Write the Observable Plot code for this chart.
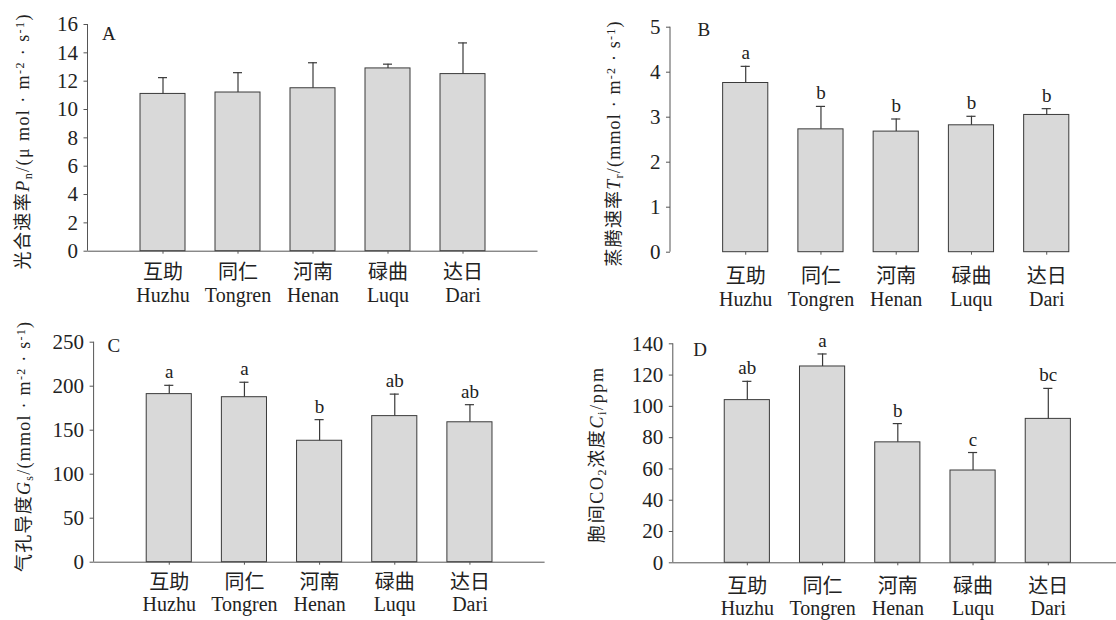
<!DOCTYPE html>
<html><head><meta charset="utf-8">
<script src="https://cdn.jsdelivr.net/npm/d3@7"></script>
<script src="https://cdn.jsdelivr.net/npm/@observablehq/plot@0.6"></script>
<style>
body{margin:0;background:#fff;}
#fig{position:relative;width:1116px;height:620px;overflow:hidden;background:#fff;}
.panel{position:absolute;}
.panel svg{overflow:visible;}
</style></head><body><div id="fig"></div>
<script>
// ---- data ----
const sitesCN = ["互助", "同仁", "河南", "碌曲", "达日"];
const sitesEN = ["Huzhu", "Tongren", "Henan", "Luqu", "Dari"];

// A: net photosynthetic rate Pn (μmol·m-2·s-1)
const pnMean = [11.1, 11.2, 11.5, 12.9, 12.5];
const pnSE   = [1.15, 1.4, 1.8, 0.3, 2.2];
const pnTicks = [0, 2, 4, 6, 8, 10, 12, 14, 16];

// B: transpiration rate Tr (mmol·m-2·s-1)
const trMean = [3.76, 2.73, 2.68, 2.82, 3.05];
const trSE   = [0.37, 0.51, 0.28, 0.20, 0.14];
const trLetters = ["a", "b", "b", "b", "b"];
const trTicks = [0, 1, 2, 3, 4, 5];

// C: stomatal conductance Gs (mmol·m-2·s-1)
const gsMean = [191, 187.5, 138, 166, 159];
const gsSE   = [10, 17, 24, 25, 20];
const gsLetters = ["a", "a", "b", "ab", "ab"];
const gsTicks = [0, 50, 100, 150, 200, 250];

// D: intercellular CO2 concentration Ci (ppm)
const ciMean = [104, 125.5, 77, 59, 92];
const ciSE   = [12, 8, 12, 11.5, 19.5];
const ciLetters = ["ab", "a", "b", "c", "bc"];
const ciTicks = [0, 20, 40, 60, 80, 100, 120, 140];

const cnOf = new Map(sitesEN.map((s, i) => [s, sitesCN[i]]));
const SERIF = "'Liberation Serif','Noto Sans CJK SC',serif";
const INK = "#222";

function makePanel(cfg) {
  const data = sitesEN.map((s, i) => ({
    site: s,
    mean: cfg.mean[i],
    upper: cfg.mean[i] + cfg.se[i],
    letter: cfg.letters ? cfg.letters[i] : ""
  }));
  const yDom = [cfg.ticks[0], cfg.ticks[cfg.ticks.length - 1]];
  const yLine = (index, scales, values, dims) => {
    const l = document.createElementNS("http://www.w3.org/2000/svg", "line");
    const x = dims.marginLeft;
    l.setAttribute("x1", x); l.setAttribute("x2", x);
    l.setAttribute("y1", scales.y(yDom[0])); l.setAttribute("y2", scales.y(yDom[1]));
    l.setAttribute("stroke", "#555"); l.setAttribute("stroke-width", 1);
    return l;
  };
  const marks = [
    Plot.barY(data, {x: "site", y: "mean", fill: "#d9d9d9", stroke: "#3a3a3a", strokeWidth: 1}),
    Plot.ruleX(data, {x: "site", y1: "mean", y2: "upper", stroke: "#3a3a3a", strokeWidth: 1.2}),
    Plot.tickY(data, {x: "site", y: "upper", insetLeft: 18, insetRight: 18, stroke: "#3a3a3a", strokeWidth: 1.2}),
    Plot.axisY({ticks: cfg.ticks, tickSize: 4, tickPadding: 6, fontSize: 21, label: null, stroke: "#555",
                tickFormat: d => String(d)}),
    Plot.axisX({tickSize: 3, tickPadding: cfg.xpad, fontSize: 20, lineHeight: cfg.lh, label: null,
                stroke: "#555", tickFormat: d => cnOf.get(d) + "\n" + d}),
    yLine,
    Plot.text([cfg.tag], {frameAnchor: "top-left", text: d => d, dx: cfg.tagDx, dy: cfg.tagDy,
                          lineAnchor: "middle", textAnchor: "start", fontSize: 19})
  ];
  if (cfg.baseline) marks.push(Plot.ruleY([0], {stroke: "#555", strokeWidth: 1}));
  if (cfg.letters) marks.push(Plot.text(data, {x: "site", y: "upper", text: "letter", dy: -7,
                                                lineAnchor: "bottom", fontSize: 19}));
  const svg = Plot.plot({
    width: 558, height: 310,
    marginLeft: cfg.ml, marginRight: cfg.mr, marginTop: cfg.mt, marginBottom: cfg.mb,
    style: {fontFamily: SERIF, fontSize: "20px", color: INK, background: "transparent", overflow: "visible"},
    x: {domain: sitesEN, paddingInner: 0.4, paddingOuter: cfg.po, align: cfg.align, round: false, axis: null},
    y: {domain: yDom, axis: null},
    marks
  });
  // rotated y-axis title with sub/superscripts
  const t = d3.select(svg).append("text")
    .attr("transform", `translate(${cfg.tx},${cfg.ty}) rotate(-90)`)
    .attr("text-anchor", "middle")
    .attr("font-family", SERIF)
    .attr("font-size", 18)
    .attr("textLength", cfg.tlen)
    .attr("lengthAdjust", "spacing")
    .attr("fill", INK);
  for (const [s, kind] of cfg.title) {
    const sp = t.append("tspan").text(s);
    if (kind === "i") sp.attr("font-style", "italic");
    if (kind === "sub") sp.attr("font-size", 12).attr("baseline-shift", "-25%");
    if (kind === "sup") sp.attr("font-size", 12).attr("baseline-shift", "45%");
  }
  const div = document.createElement("div");
  div.className = "panel";
  div.style.left = cfg.left + "px";
  div.style.top = cfg.top + "px";
  div.appendChild(svg);
  document.getElementById("fig").appendChild(div);
}

makePanel({
  left: 0, top: 0, mean: pnMean, se: pnSE, ticks: pnTicks, tag: "A",
  ml: 87.5, mr: 20.5, mt: 24, mb: 59.3, po: 0.7, align: 0.5, baseline: true,
  xpad: 8, lh: 1.15, tagDx: 14, tagDy: 9, tx: 29, ty: 142, tlen: 255,
  title: [["光合速率"], ["P", "i"], ["n", "sub"], ["/(μ mol · m"], ["-2", "sup"], [" · s"], ["-1", "sup"], [")"]]
});
makePanel({
  left: 558, top: 0, mean: trMean, se: trSE, ticks: trTicks, tag: "B", letters: trLetters,
  ml: 112, mr: 2, mt: 26.7, mb: 58.3, po: 0.65, align: 0.538, baseline: false,
  xpad: 11, lh: 1.15, tagDx: 27, tagDy: 3, tx: 62, ty: 144, tlen: 245,
  title: [["蒸腾速率"], ["T", "i"], ["r", "sub"], ["/(mmol · m"], ["-2", "sup"], [" · s"], ["-1", "sup"], [")"]]
});
makePanel({
  left: 0, top: 310, mean: gsMean, se: gsSE, ticks: gsTicks, tag: "C", letters: gsLetters,
  ml: 93.6, mr: 13.4, mt: 31.7, mb: 58.3, po: 0.7, align: 0.5, baseline: true,
  xpad: 8, lh: 1.12, tagDx: 13.4, tagDy: 3.5, tx: 30, ty: 137, tlen: 250,
  title: [["气孔导度"], ["G", "i"], ["s", "sub"], ["/(mmol · m"], ["-2", "sup"], [" · s"], ["-1", "sup"], [")"]]
});
makePanel({
  left: 558, top: 310, mean: ciMean, se: ciSE, ticks: ciTicks, tag: "D", letters: ciLetters,
  ml: 114.8, mr: 0, mt: 33.3, mb: 57.7, po: 0.645, align: 0.53, baseline: true,
  xpad: 11, lh: 1.12, tagDx: 20, tagDy: 6, tx: 44.5, ty: 145.5, tlen: 175,
  title: [["胞间CO"], ["2", "sub"], ["浓度"], ["C", "i"], ["i", "sub"], ["/ppm"]]
});
</script></body></html>
